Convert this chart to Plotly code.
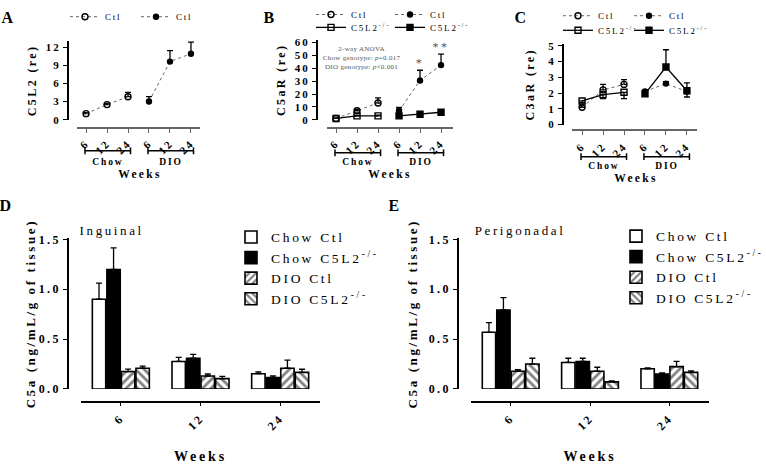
import plotly.graph_objects as go

W, H = 766, 465
SERIF = "Liberation Serif"

weeks = ["6", "12", "24"]
chow_pos = [1, 2, 3]
dio_pos = [4, 5, 6]

# A: C5L2 (re)
a_chow_ctl = [1.0, 2.5, 3.8]
a_chow_ctl_err = [0.15, 0.2, 0.7]
a_dio_ctl = [3.0, 9.6, 10.9]
a_dio_ctl_err = [0.8, 1.8, 1.9]

# B: C5aR (re)
b_chow_ctl = [1.0, 7.0, 13.0]
b_chow_ctl_err = [0.3, 1.0, 4.0]
b_chow_ko = [1.0, 3.0, 3.0]
b_chow_ko_err = [0.3, 0.4, 0.5]
b_dio_ctl = [7.0, 30.5, 42.5]
b_dio_ctl_err = [2.5, 8.0, 8.5]
b_dio_ko = [3.0, 4.3, 5.8]
b_dio_ko_err = [0.5, 0.5, 0.8]
b_stars = ["", "*", "**"]

# C: C3aR (re)
c_chow_ctl = [1.1, 2.2, 2.55]
c_chow_ctl_err = [0.1, 0.35, 0.3]
c_chow_ko = [1.5, 1.9, 2.05]
c_chow_ko_err = [0.1, 0.25, 0.4]
c_dio_ctl = [2.1, 2.6, 2.1]
c_dio_ctl_err = [0.1, 0.12, 0.1]
c_dio_ko = [1.95, 3.65, 2.15]
c_dio_ko_up = [0.1, 1.1, 0.5]
c_dio_ko_down = [0.1, 0.0, 0.4]

# D: inguinal C5a
d_chow_ctl = [0.90, 0.276, 0.153]
d_chow_ctl_err = [0.16, 0.04, 0.017]
d_chow_ko = [1.198, 0.308, 0.114]
d_chow_ko_err = [0.217, 0.039, 0.016]
d_dio_ctl = [0.175, 0.13, 0.208]
d_dio_ctl_err = [0.025, 0.02, 0.082]
d_dio_ko = [0.208, 0.104, 0.166]
d_dio_ko_err = [0.022, 0.023, 0.032]

# E: perigonadal C5a
e_chow_ctl = [0.568, 0.266, 0.203]
e_chow_ctl_err = [0.098, 0.042, 0.008]
e_chow_ko = [0.792, 0.276, 0.149]
e_chow_ko_err = [0.124, 0.032, 0.011]
e_dio_ctl = [0.178, 0.178, 0.224]
e_dio_ctl_err = [0.017, 0.04, 0.052]
e_dio_ko = [0.25, 0.071, 0.166]
e_dio_ko_err = [0.058, 0.009, 0.016]

KO = "C5L2<sup>-/-</sup>"


def fx(p):
    return p / W


def fy(p):
    return 1 - p / H


def errbar(up, down=None):
    if down is None:
        down = [0] * len(up)
    return dict(type="data", symmetric=False, array=up, arrayminus=down,
                color="black", thickness=1.3, width=3)


def line_tr(x, y, up, down, name, ko, filled, ax, leg):
    sym = ("square" if ko else "circle") + ("" if filled else "-open")
    return go.Scatter(
        x=x, y=y, name=name, mode="lines+markers", xaxis="x" + ax, yaxis="y" + ax,
        legend=leg, showlegend=True, cliponaxis=False,
        line=dict(color="black" if ko else "#666", width=1.3 if ko else 1,
                  dash="solid" if ko else "dot"),
        marker=dict(symbol=sym, size=(6 if ko else 5) if filled else 6,
                    color="black", line=dict(color="black", width=1.4)),
        error_y=errbar(up, down),
    )


def bar_tr(y, e, name, fill, pattern, ax, leg):
    mk = dict(color=fill, line=dict(color="black", width=1.6))
    if pattern:
        mk["pattern"] = dict(shape=pattern, fgcolor="black", bgcolor="white",
                             size=6, solidity=0.45)
    return go.Bar(x=weeks, y=y, name=name, marker=mk, xaxis="x" + ax, yaxis="y" + ax,
                  legend=leg, showlegend=True, error_y=errbar(e))


fig = go.Figure()

# A
fig.add_trace(line_tr(chow_pos, a_chow_ctl, a_chow_ctl_err, None, "Ctl", False, False, "", "legend"))
fig.add_trace(line_tr(dio_pos, a_dio_ctl, a_dio_ctl_err, None, "Ctl", False, True, "", "legend2"))
# B
fig.add_trace(line_tr(chow_pos, b_chow_ctl, b_chow_ctl_err, None, "Ctl", False, False, "2", "legend3"))
fig.add_trace(line_tr(dio_pos, b_dio_ctl, b_dio_ctl_err, None, "Ctl", False, True, "2", "legend4"))
fig.add_trace(line_tr(chow_pos, b_chow_ko, b_chow_ko_err, None, KO, True, False, "2", "legend5"))
fig.add_trace(line_tr(dio_pos, b_dio_ko, b_dio_ko_err, None, KO, True, True, "2", "legend6"))
# C
fig.add_trace(line_tr(chow_pos, c_chow_ctl, c_chow_ctl_err, None, "Ctl", False, False, "3", "legend7"))
fig.add_trace(line_tr(dio_pos, c_dio_ctl, c_dio_ctl_err, None, "Ctl", False, True, "3", "legend8"))
fig.add_trace(line_tr(chow_pos, c_chow_ko, [0, 0, 0], c_chow_ko_err, KO, True, False, "3", "legend9"))
fig.add_trace(line_tr(dio_pos, c_dio_ko, c_dio_ko_up, c_dio_ko_down, KO, True, True, "3", "legend10"))
# D
fig.add_trace(bar_tr(d_chow_ctl, d_chow_ctl_err, "Chow Ctl", "white", None, "4", "legend11"))
fig.add_trace(bar_tr(d_chow_ko, d_chow_ko_err, "Chow " + KO, "black", None, "4", "legend11"))
fig.add_trace(bar_tr(d_dio_ctl, d_dio_ctl_err, "DIO Ctl", "white", "/", "4", "legend11"))
fig.add_trace(bar_tr(d_dio_ko, d_dio_ko_err, "DIO " + KO, "white", "\\", "4", "legend11"))
# E
fig.add_trace(bar_tr(e_chow_ctl, e_chow_ctl_err, "Chow Ctl", "white", None, "5", "legend12"))
fig.add_trace(bar_tr(e_chow_ko, e_chow_ko_err, "Chow " + KO, "black", None, "5", "legend12"))
fig.add_trace(bar_tr(e_dio_ctl, e_dio_ctl_err, "DIO Ctl", "white", "/", "5", "legend12"))
fig.add_trace(bar_tr(e_dio_ko, e_dio_ko_err, "DIO " + KO, "white", "\\", "5", "legend12"))


def bold(size):
    return dict(family=SERIF, size=size, color="black", weight="bold")


def xax(dom, pos, rng=None, small=True):
    d = dict(domain=[fx(dom[0]), fx(dom[1])], anchor="free", position=fy(pos),
             showline=True, linecolor="#666" if small else "black", linewidth=2 if small else 1.5,
             ticks="outside", ticklen=4, tickcolor="#666" if small else "black", tickwidth=1.3,
             showgrid=False, zeroline=False, tickangle=-45, fixedrange=True,
             tickfont=bold(11 if small else 12))
    if rng is not None:
        d.update(range=rng, tickvals=chow_pos + dio_pos, ticktext=weeks + weeks)
    else:
        d.update(range=[-0.5, 2.5], title=dict(text="Weeks", font=bold(14), standoff=22))
    return d


def yax(dom, pos, rng, dtick, title, tsize, ttl, fmt=None, standoff=6):
    d = dict(domain=[fy(dom[0]), fy(dom[1])], anchor="free", position=fx(pos),
             range=rng, dtick=dtick, showline=True, linecolor="black", linewidth=1.5,
             ticks="outside", ticklen=4, tickwidth=1.3, tickcolor="black",
             showgrid=False, zeroline=False, fixedrange=True,
             tickfont=bold(tsize), title=dict(text=title, font=bold(ttl), standoff=standoff))
    if fmt:
        d["tickformat"] = fmt
    return d


def leg(mx, my, size=9, anchor="middle"):
    return dict(x=fx(mx - 22), y=fy(my), xanchor="left", yanchor=anchor,
                orientation="v", bgcolor="rgba(0,0,0,0)", borderwidth=0,
                font=dict(family=SERIF, size=size, color="black"), itemwidth=30,
                tracegroupgap=0, itemclick=False, visible=True)


fig.update_layout(
    width=W, height=H, margin=dict(l=0, r=0, t=0, b=0),
    paper_bgcolor="white", plot_bgcolor="white", showlegend=True,
    font=dict(family=SERIF, color="black"),
    barmode="group", bargap=0.27, bargroupgap=0.08,
    xaxis=xax((77, 200), 125, [0.57, 6.43]),
    yaxis=yax((117, 36), 68, [0, 13], 3, "C5L2 (re)", 11, 12, standoff=10),
    xaxis2=xax((327, 453), 125, [0.57, 6.57]),
    yaxis2=yax((117, 35), 317, [0, 62], 10, "C5aR (re)", 11, 12, standoff=10),
    xaxis3=xax((572, 697), 128, [0.52, 6.48]),
    yaxis3=yax((122, 39), 563, [0, 5.12], 1, "C3aR (re)", 11, 12, standoff=12),
    xaxis4=xax((81, 320), 407, small=False),
    yaxis4=yax((394, 239), 68, [0, 1.51], 0.5, "C5a (ng/mL/g of tissue)", 12, 13, ".1f", 6),
    xaxis5=xax((471, 709), 407, small=False),
    yaxis5=yax((394, 239), 458, [0, 1.51], 0.5, "C5a (ng/mL/g of tissue)", 12, 13, ".1f", 14),
    legend=leg(87, 11), legend2=leg(158, 11),
    legend3=leg(333, 8.5), legend4=leg(412, 8.5), legend5=leg(333, 22), legend6=leg(412, 22),
    legend7=leg(580, 10), legend8=leg(651, 10), legend9=leg(580, 25), legend10=leg(651, 25),
    legend11=leg(253, 222, 13.5, "top"), legend12=leg(638, 221, 13.5, "top"),
)

# brackets under the time axes (Chow / DIO) and "Weeks" captions
brackets = [("", 149, 160, 173), ("2", 151, 160, 173), ("3", 155, 165, 177)]
for ax, yb, ylab, yweeks in brackets:
    for grp, pos in (("Chow", chow_pos), ("DIO", dio_pos)):
        x0, x1 = pos[0] - 0.05, pos[-1] + 0.12
        fig.add_shape(type="line", xref="x" + ax, yref="paper", x0=x0, x1=x1,
                      y0=fy(yb), y1=fy(yb), line=dict(color="black", width=1.5))
        for xe in (x0, x1):
            fig.add_shape(type="line", xref="x" + ax, yref="paper", x0=xe, x1=xe,
                          y0=fy(yb - 3.5), y1=fy(yb + 3.5), line=dict(color="black", width=1.5))
        fig.add_annotation(x=(x0 + x1) / 2, y=fy(ylab), xref="x" + ax, yref="paper",
                           text=grp, showarrow=False, font=bold(9.5),
                           xanchor="center", yanchor="middle")
    fig.add_annotation(x=3.55, y=fy(yweeks), xref="x" + ax, yref="paper", text="Weeks",
                       showarrow=False, font=bold(11.5), xanchor="center", yanchor="middle")

# significance stars in B
for xi, yi, ei, s in zip(dio_pos, b_dio_ctl, b_dio_ctl_err, b_stars):
    if s:
        fig.add_annotation(x=xi, y=yi + ei, xref="x2", yref="y2", text=s, showarrow=False,
                           xanchor="center", yanchor="bottom", yshift=-2,
                           font=dict(family=SERIF, size=12, color="#555"))

fig.add_annotation(x=fx(362), y=fy(53), xref="paper", yref="paper", showarrow=False,
                   text="2-way ANOVA<br>Chow genotype: <i>p</i>=0.017<br>DIO genotype: <i>p</i>&lt;0.001",
                   font=dict(family=SERIF, size=7, color="#555"), align="center",
                   xanchor="center", yanchor="middle")

# depot labels
fig.add_annotation(x=fx(88), y=fy(231), xref="paper", yref="paper", text="Inguinal",
                   showarrow=False, xanchor="left", yanchor="middle",
                   font=dict(family=SERIF, size=13, color="black"))
fig.add_annotation(x=fx(487), y=fy(231), xref="paper", yref="paper", text="Perigonadal",
                   showarrow=False, xanchor="left", yanchor="middle",
                   font=dict(family=SERIF, size=13, color="black"))

# panel letters
for letter, lx, ly in (("A", 9, 12), ("B", 270, 12), ("C", 522, 12), ("D", 7, 205), ("E", 395, 205)):
    fig.add_annotation(x=fx(lx), y=fy(ly), xref="paper", yref="paper", text=letter,
                       showarrow=False, xanchor="center", yanchor="middle", font=bold(16))

post = """
document.body.style.margin = '0';
var gd = document.getElementById('{plot_id}');
gd.querySelectorAll('text').forEach(function (t) {
  var fs = parseFloat(t.style.fontSize) || 12;
  t.style.letterSpacing = (fs < 9 ? 0.3 : fs * 0.2) + 'px';
});
gd.querySelectorAll('.scrollbox').forEach(function (e) {
  e.removeAttribute('clip-path');
});
"""

fig.write_html("out.html", post_script=post, config={"displayModeBar": False})
